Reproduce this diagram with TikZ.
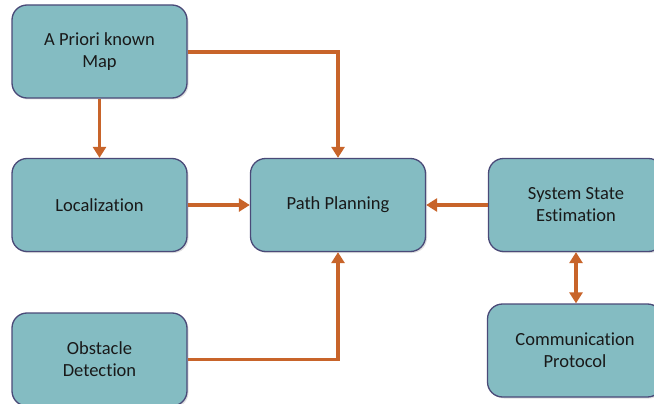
\documentclass[tikz,border=0pt]{standalone}
\usepackage{fontspec}
\setmainfont[Ligatures=NoCommon]{Carlito}
\usetikzlibrary{arrows.meta,shadows,positioning}
\definecolor{boxfill}{HTML}{84BCC2}
\definecolor{boxline}{HTML}{4A4A78}
\definecolor{flow}{HTML}{C8642A}
\tikzset{
  block/.style={draw=boxline, line width=1.3pt, fill=boxfill, rounded corners=15pt,
    minimum width=175pt, minimum height=93pt, align=center, inner sep=2pt,
    text=black!90, font=\fontsize{18.5}{22}\selectfont,
    drop shadow={shadow xshift=1.5pt, shadow yshift=-1.5pt, opacity=0.25}},
  link/.style={draw=flow, line width=3.6pt, -{Triangle[width=13pt,length=11pt]}},
  dlink/.style={draw=flow, line width=3.6pt, {Triangle[width=13pt,length=11pt]}-{Triangle[width=13pt,length=11pt]}}
}
\begin{document}
\begin{tikzpicture}[x=1pt,y=1pt]
  \path[use as bounding box] (0,0) rectangle (654,-404);
  \clip (0,0) rectangle (654,-404);
  \node[block] (map)  at (99.5,-51.5)  {A Priori known\\Map};
  \node[block] (loc)  at (99.5,-205)   {Localization};
  \node[block] (pp)   at (338,-205)    {Path Planning};
  \node[block] (sse)  at (576,-205)    {System State\\Estimation};
  \node[block] (comm) at (575,-350.5)  {Communication\\Protocol};
  \node[block] (obs)  at (99.5,-359.5) {Obstacle\\Detection};

  \draw[link] (map.east |- 0,-52) -| (pp.north);
  \draw[link] (map.south) -- (loc.north);
  \draw[link] (loc.east) -- (pp.west);
  \draw[link] (sse.west) -- (pp.east);
  \draw[link] (obs.east) -| (pp.south);
  \draw[dlink] (sse.south -| 576,0) -- (comm.north -| 576,0);
\end{tikzpicture}
\end{document}
